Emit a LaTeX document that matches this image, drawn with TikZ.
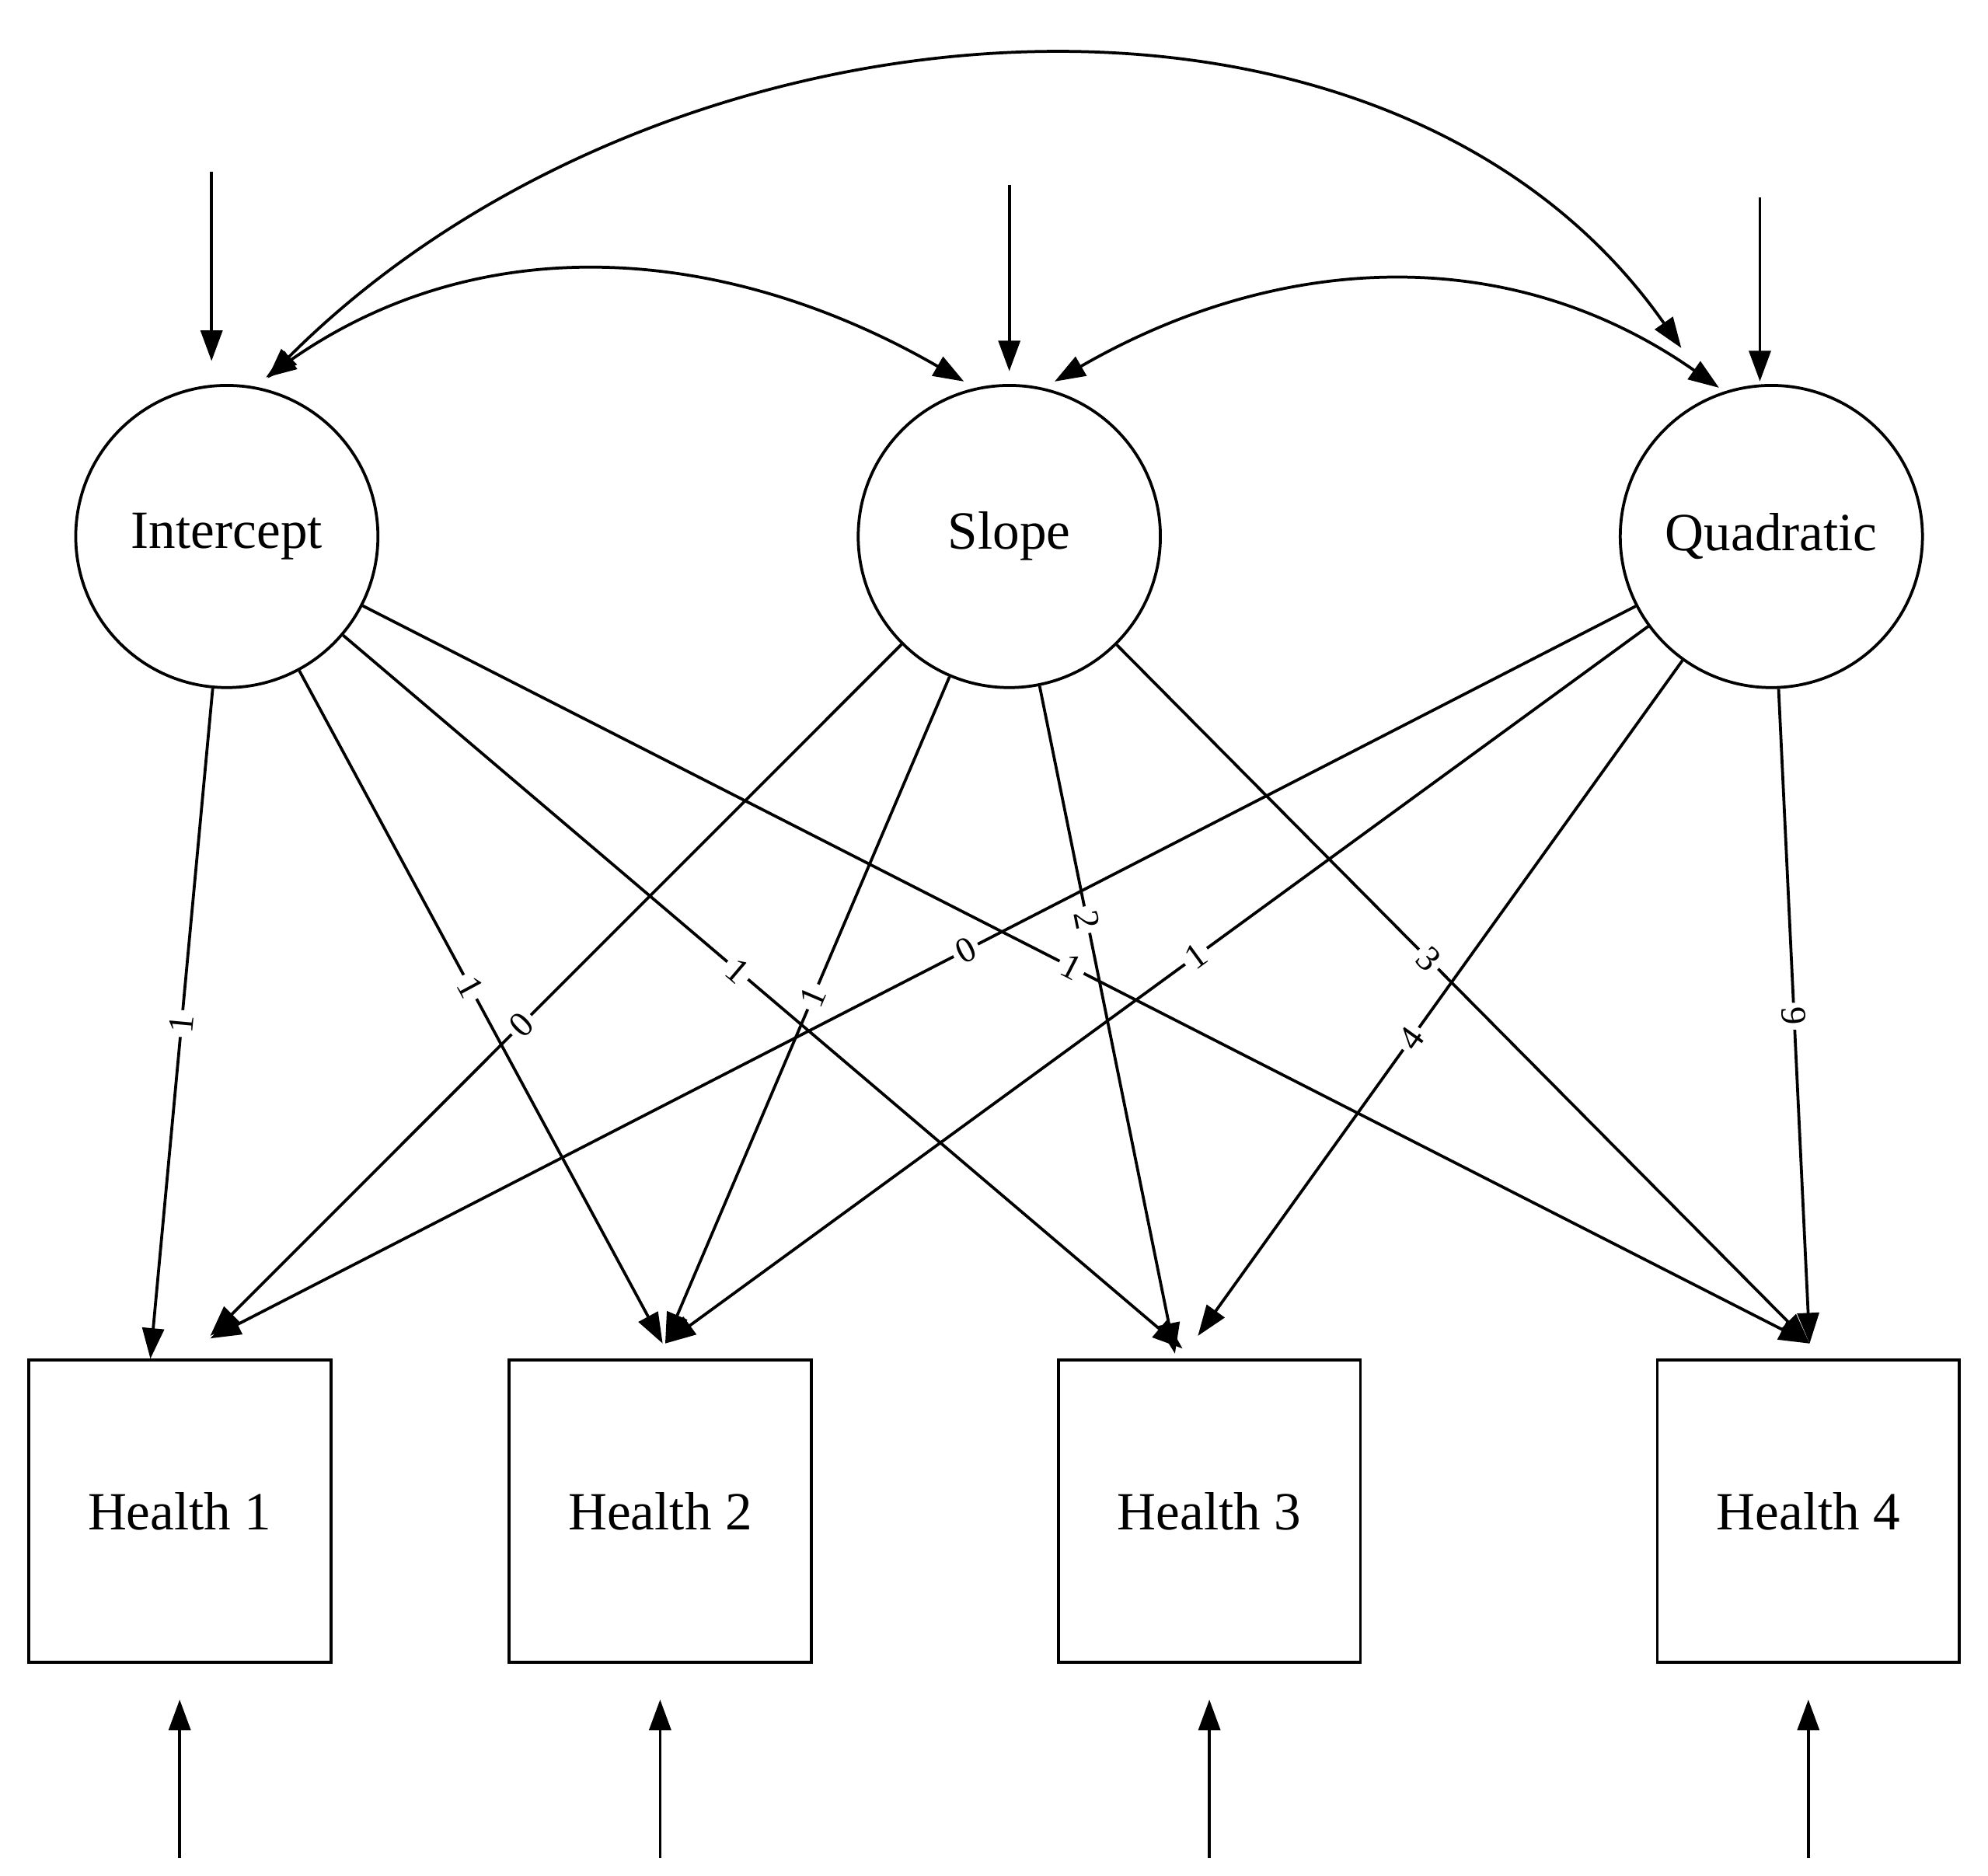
\documentclass[tikz,border=0pt]{standalone}
\usepackage{fontspec}
\setmainfont{Liberation Serif}
\usetikzlibrary{calc, arrows.meta}

\begin{document}
\begin{tikzpicture}[x=0.01cm, y=-0.01cm,
            line width=0.65pt,
            latent/.style={circle, draw, minimum size=2.37cm, inner sep=0pt, font=\fontsize{12}{14}\selectfont},
            manifest/.style={rectangle, draw, minimum size=2.37cm, inner sep=0pt, font=\fontsize{12}{14}\selectfont},
            vec/.style={-{Triangle[length=0.24cm, width=0.17cm]}},
            cov/.style={{Triangle[length=0.24cm, width=0.17cm]}-{Triangle[length=0.24cm, width=0.17cm]}},
            lab/.style={sloped, fill=white, inner sep=1pt, font=\fontsize{8}{9}\selectfont}
            ]
        \useasboundingbox (0,0) rectangle (1560,1472);

        % latent growth factors
        \node[latent] (int)  at (178,421)  {Intercept};
        \node[latent] (slp)  at (792,421)  {Slope};
        \node[latent] (quad) at (1390,421) {Quadratic};

        % observed indicators
        \node[manifest] (h1) at (141,1186)  {Health 1};
        \node[manifest] (h2) at (518,1186)  {Health 2};
        \node[manifest] (h3) at (949,1186)  {Health 3};
        \node[manifest] (h4) at (1419,1186) {Health 4};

        % disturbances
        \coordinate (eint)  at (166,135);
        \coordinate (eslp)  at (792,145);
        \coordinate (equad) at (1381,155);
        \draw[vec] (eint) -- ($(int.north)+(-12,-18)$);
        \draw[vec] (eslp) -- ($(slp.north)+(0,-10)$);
        \draw[vec] (equad) -- ($(quad.north)+(-9,-2)$);
        \foreach \h/\x in {h1/141, h2/518, h3/949, h4/1419} {
            \coordinate (e\h) at (\x,1458);
            \draw[vec] (e\h) -- ($(\h.south)+(0,28)$);
        }

        % covariances
        \draw[cov, shorten <=0.12cm, shorten >=0.1cm] (int.80) to[out=35, in=150] (slp.103);
        \draw[cov, shorten <=0.1cm, shorten >=0.05cm] (slp.77) to[out=30, in=145] (quad.108);
        \draw[cov, shorten <=0.1cm, shorten >=0.45cm] (int.78) to[out=45, in=125] (quad.112);

        % loadings
        \draw[vec] (int) -- node[lab, pos=0.5]  {1} ($(h1.north)+(-23,0)$);
        \draw[vec] (int) -- node[lab, pos=0.47] {1} ($(h2.north)+(2,-12)$);
        \draw[vec] (int) -- node[lab, pos=0.47] {1} ($(h3.north)+(-21,-8)$);
        \draw[vec] (int) -- node[lab, pos=0.49] {1} ($(h4.north)+(1,-12)$);

        \draw[vec] (slp) -- node[lab, pos=0.55] {0} ($(h1.north)+(24,-18)$);
        \draw[vec] (slp) -- node[lab, pos=0.48] {1} ($(h2.north)+(4,-12)$);
        \draw[vec] (slp) -- node[lab, pos=0.35] {2} ($(h3.north)+(-27,-4)$);
        \draw[vec] (slp) -- node[lab, pos=0.45] {3} ($(h4.north)+(1,-12)$);

        \draw[vec] (quad) -- node[lab, pos=0.47] {0} ($(h1.north)+(24,-16)$);
        \draw[vec] (quad) -- node[lab, pos=0.46] {1} ($(h2.north)+(4,-12)$);
        \draw[vec] (quad) -- node[lab, pos=0.56] {4} ($(h3.north)+(-9,-18)$);
        \draw[vec] (quad) -- node[lab, pos=0.5]  {9} ($(h4.north)+(1,-12)$);
    \end{tikzpicture}
\end{document}
